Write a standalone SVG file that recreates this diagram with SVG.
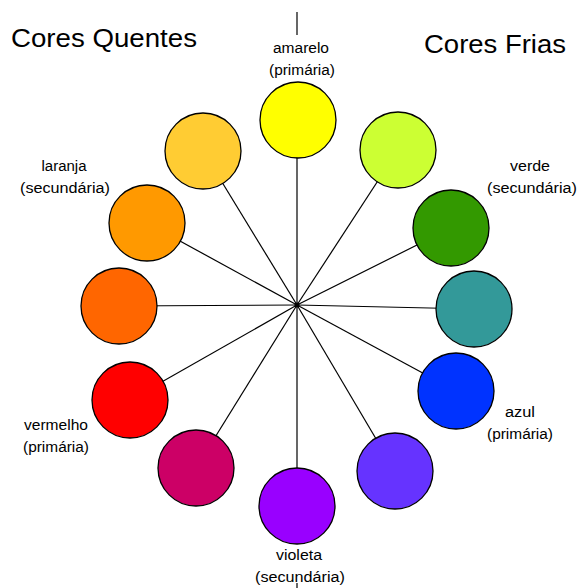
<svg xmlns="http://www.w3.org/2000/svg" width="577" height="588" viewBox="0 0 577 588">
<style>
.t{font-family:"Liberation Sans",Arial,sans-serif;fill:#000}
.h{font-size:25px}
.s{font-size:14px;text-anchor:middle}
.c{stroke:#000;stroke-width:1.3}
.l{stroke:#000;stroke-width:1.2;fill:none}
</style>
<rect width="577" height="588" fill="#fff"/>
<text class="t h" x="11" y="47" textLength="186" lengthAdjust="spacingAndGlyphs">Cores Quentes</text>
<text class="t h" x="424" y="53" textLength="142" lengthAdjust="spacingAndGlyphs">Cores Frias</text>
<g id="connectors">
<line class="l" x1="297" y1="12" x2="297" y2="35"/>
<line class="l" x1="297" y1="120" x2="297" y2="506"/>
<line class="l" x1="297" y1="583" x2="297" y2="588"/>
<line class="l" x1="297" y1="305" x2="203" y2="151"/>
<line class="l" x1="297" y1="305" x2="398" y2="150"/>
<line class="l" x1="297" y1="305" x2="147" y2="223"/>
<line class="l" x1="297" y1="305" x2="451" y2="228"/>
<line class="l" x1="297" y1="305" x2="119" y2="306"/>
<line class="l" x1="297" y1="305" x2="474" y2="309"/>
<line class="l" x1="297" y1="305" x2="130" y2="400"/>
<line class="l" x1="297" y1="305" x2="456" y2="391"/>
<line class="l" x1="297" y1="305" x2="196" y2="468"/>
<line class="l" x1="297" y1="305" x2="395" y2="471"/>
<circle cx="297" cy="305" r="2.5" fill="#000"/>
</g>
<g id="amarelo"><circle class="c" cx="298" cy="120" r="38" fill="#FFFF00"/>
<text class="t s" x="301" y="53" textLength="56" lengthAdjust="spacingAndGlyphs">amarelo</text>
<text class="t s" x="302" y="75" textLength="66" lengthAdjust="spacingAndGlyphs">(primária)</text></g>
<g id="amarelo-alaranjado"><circle class="c" cx="203" cy="151" r="38" fill="#FFCC33"/></g>
<g id="amarelo-esverdeado"><circle class="c" cx="398" cy="150" r="38" fill="#CCFF33"/></g>
<g id="laranja"><circle class="c" cx="147" cy="223" r="38" fill="#FF9900"/>
<text class="t s" x="64" y="171" textLength="45" lengthAdjust="spacingAndGlyphs">laranja</text>
<text class="t s" x="65" y="193" textLength="90" lengthAdjust="spacingAndGlyphs">(secundária)</text></g>
<g id="verde"><circle class="c" cx="451" cy="228" r="38" fill="#339900"/>
<text class="t s" x="530" y="171" textLength="40" lengthAdjust="spacingAndGlyphs">verde</text>
<text class="t s" x="532" y="193" textLength="90" lengthAdjust="spacingAndGlyphs">(secundária)</text></g>
<g id="vermelho-alaranjado"><circle class="c" cx="119" cy="306" r="38" fill="#FF6600"/></g>
<g id="azul-esverdeado"><circle class="c" cx="474" cy="309" r="38" fill="#339999"/></g>
<g id="vermelho"><circle class="c" cx="130" cy="400" r="38" fill="#FF0000"/>
<text class="t s" x="56" y="430" textLength="64" lengthAdjust="spacingAndGlyphs">vermelho</text>
<text class="t s" x="56" y="452" textLength="66" lengthAdjust="spacingAndGlyphs">(primária)</text></g>
<g id="azul"><circle class="c" cx="456" cy="391" r="38" fill="#0033FF"/>
<text class="t s" x="520" y="417" textLength="30" lengthAdjust="spacingAndGlyphs">azul</text>
<text class="t s" x="520" y="439" textLength="66" lengthAdjust="spacingAndGlyphs">(primária)</text></g>
<g id="vermelho-arroxeado"><circle class="c" cx="196" cy="468" r="38" fill="#CC0066"/></g>
<g id="azul-arroxeado"><circle class="c" cx="395" cy="471" r="38" fill="#6633FF"/></g>
<g id="violeta"><circle class="c" cx="297" cy="506" r="38" fill="#9900FF"/>
<text class="t s" x="299" y="560" textLength="46" lengthAdjust="spacingAndGlyphs">violeta</text>
<text class="t s" x="300" y="582" textLength="90" lengthAdjust="spacingAndGlyphs">(secundária)</text></g>
</svg>
